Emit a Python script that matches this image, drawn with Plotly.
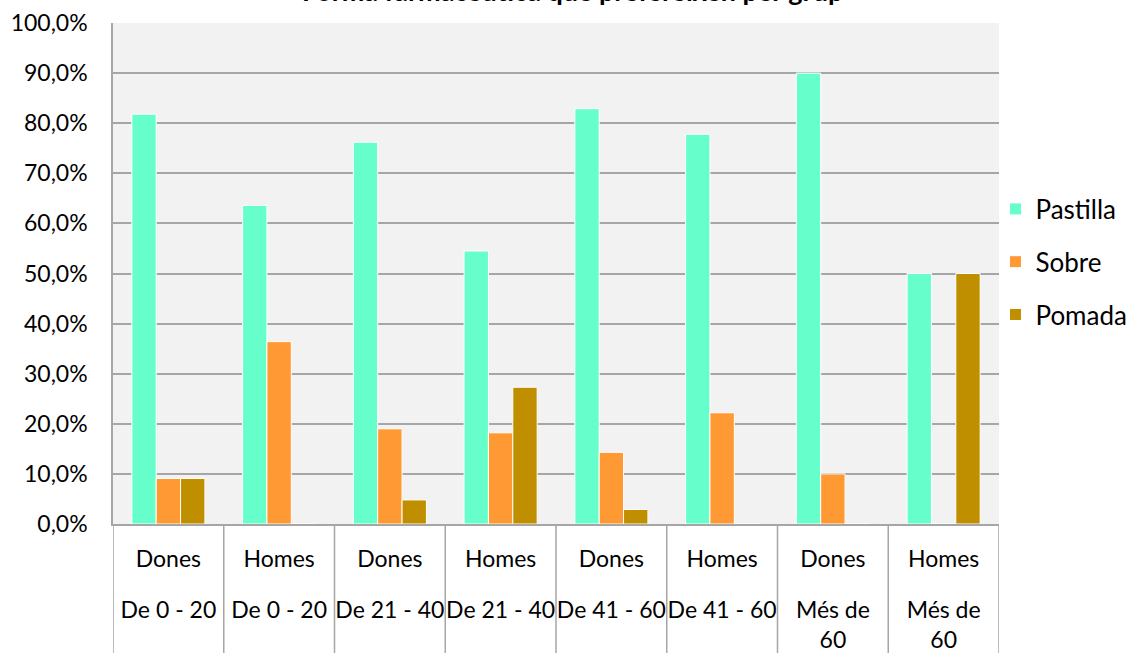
import plotly.graph_objects as go

# Groups (sex / age band) and share of each preferred presentation
sexes = ["Dones", "Homes", "Dones", "Homes", "Dones", "Homes", "Dones", "Homes"]
ages = ["De 0 - 20", "De 0 - 20", "De 21 - 40", "De 21 - 40",
        "De 41 - 60", "De 41 - 60", "Més de<br>60", "Més de<br>60"]
pastilla = [0.818, 0.636, 0.762, 0.545, 0.829, 0.778, 0.900, 0.500]
sobre = [0.091, 0.364, 0.190, 0.182, 0.143, 0.222, 0.100, 0.000]
pomada = [0.091, 0.000, 0.048, 0.273, 0.029, 0.000, 0.000, 0.500]
y_ticks = [i / 10 for i in range(11)]

series = [("Pastilla", pastilla, "#66FFCC"),
          ("Sobre", sobre, "#FF9933"),
          ("Pomada", pomada, "#BF8F00")]

FONT = "Lato"
TXT = "#000000"
GRID = "#A6A6A6"
AXIS_SIZE = 23

positions = list(range(len(sexes)))
x_range = [-0.5, len(sexes) - 0.5]

fig = go.Figure()
for name, vals, color in series:
    fig.add_trace(go.Bar(
        x=positions, y=vals, name=name, legendgroup=name,
        marker=dict(color=color, line=dict(color="#FFFFFF", width=1)),
    ))

# divider lines between the category cells below the axis
for i in range(len(sexes) + 1):
    fig.add_shape(type="line", xref="x", yref="paper",
                  x0=i - 0.5, x1=i - 0.5, y0=0, y1=-0.3,
                  line=dict(color=GRID, width=1.5), layer="below")

fig.update_layout(
    width=1134, height=653,
    margin=dict(l=113, r=135, t=23, b=129, autoexpand=False),
    paper_bgcolor="#FFFFFF",
    plot_bgcolor="#F2F2F2",
    separators=",.",
    barmode="group",
    bargap=0.34,
    bargroupgap=0,
    font=dict(family=FONT, size=AXIS_SIZE, color=TXT),
    title=dict(text="<b>Forma farmacèutica que prefereixen per grup</b>",
               font=dict(family=FONT, size=27, color=TXT),
               x=0.505, xanchor="center", xref="container",
               y=1 - 1 / 653, yanchor="bottom", yref="container"),
    legend=dict(x=0.996, xanchor="left", y=0.523, yanchor="middle",
                font=dict(family=FONT, size=26, color=TXT),
                tracegroupgap=16, bgcolor="rgba(0,0,0,0)"),
    showlegend=True,
    xaxis=dict(
        tickmode="array", tickvals=positions, ticktext=sexes,
        range=x_range, automargin=False, tickangle=0,
        showgrid=False, zeroline=False,
        showline=True, linecolor=GRID, linewidth=1.5,
        ticks="", ticklabelstandoff=14,
        tickfont=dict(family=FONT, size=AXIS_SIZE, color=TXT),
    ),
    # second row of category labels (age band)
    xaxis2=dict(
        overlaying="x", anchor="y", side="bottom",
        tickmode="array", tickvals=positions, ticktext=ages,
        range=x_range, automargin=False, tickangle=0,
        showgrid=False, zeroline=False, showline=False,
        ticks="", ticklabelstandoff=70,
        tickfont=dict(family=FONT, size=AXIS_SIZE, color=TXT),
    ),
    yaxis=dict(
        range=[0, 1], tickvals=y_ticks, tickformat=".1%", automargin=False,
        showgrid=True, gridcolor=GRID, gridwidth=1.5,
        zeroline=False, showline=True, linecolor=GRID, linewidth=1.5,
        ticks="", ticklabelstandoff=19,
        tickfont=dict(family=FONT, size=AXIS_SIZE, color=TXT),
    ),
)

# invisible trace that binds the second label row to its axis
fig.add_trace(go.Scatter(x=positions, y=[None] * len(positions), xaxis="x2",
                         mode="markers", showlegend=False, hoverinfo="skip"))

fig.write_html("out.html")
